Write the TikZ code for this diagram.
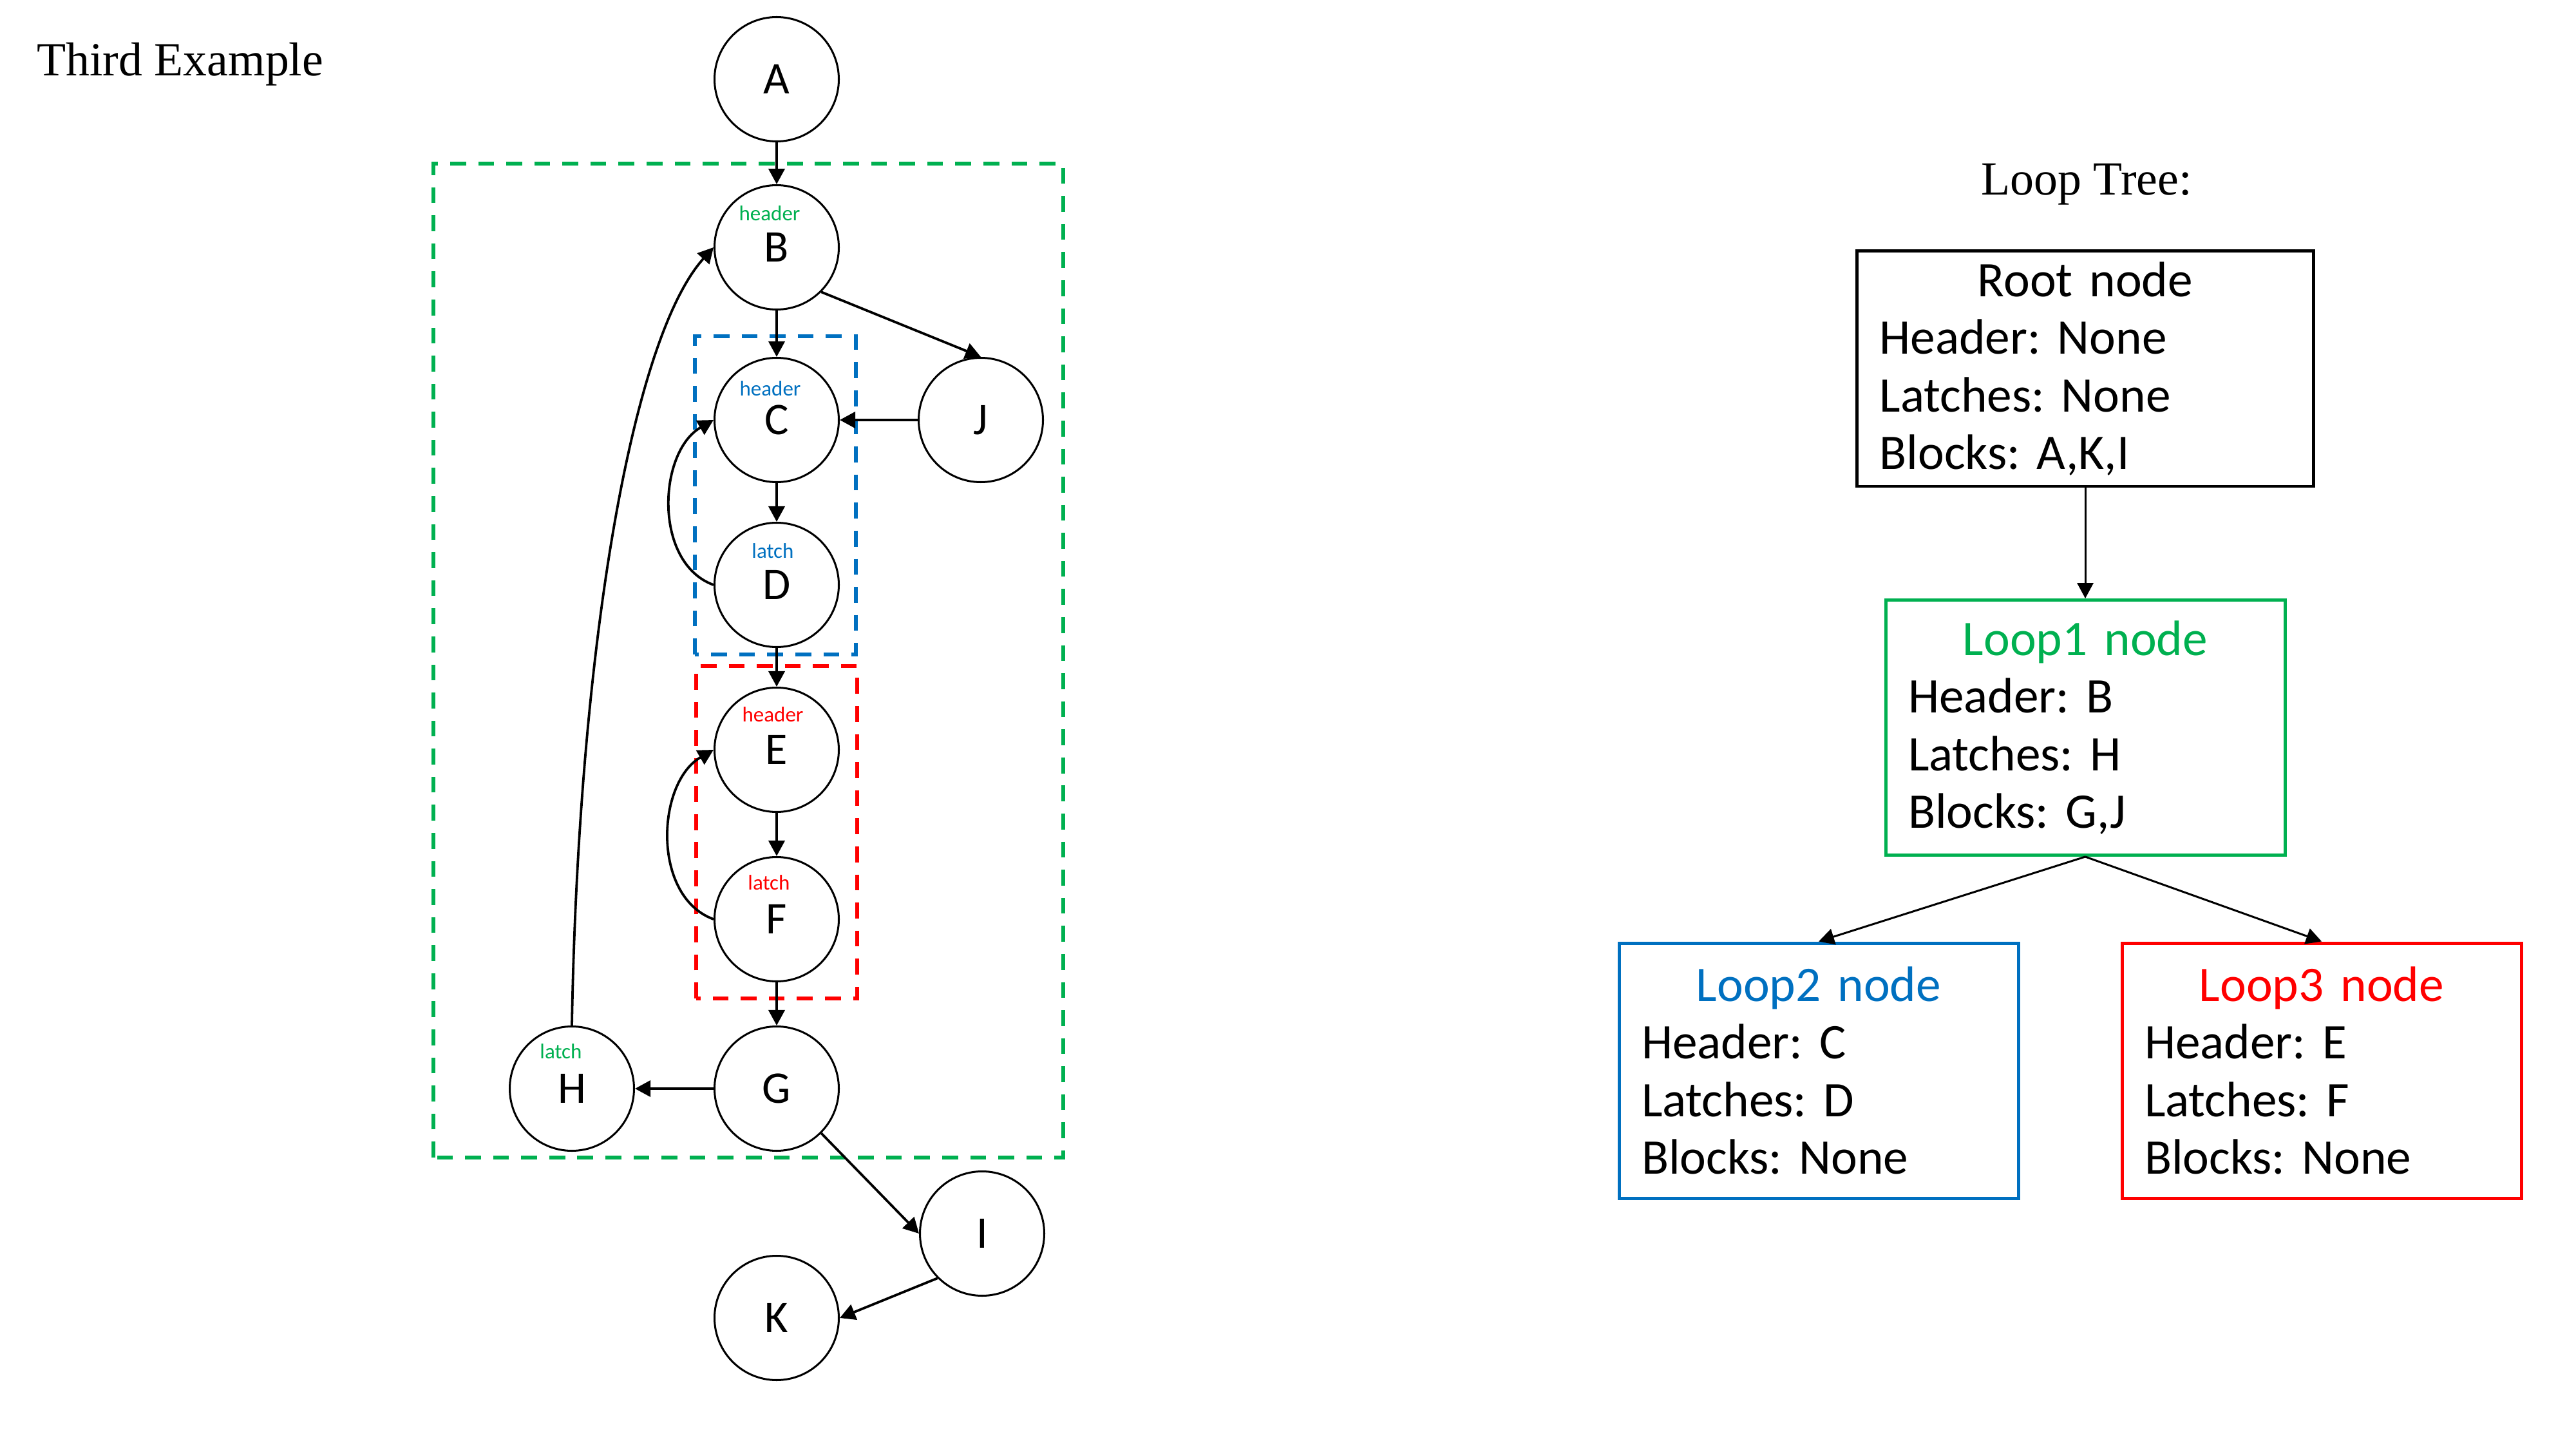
\documentclass[tikz,border=0pt]{standalone}
\usepackage{fontspec}
\setmainfont{Liberation Serif}
\newfontfamily\calfont{Carlito}
\usetikzlibrary{arrows.meta}
\definecolor{loopgreen}{RGB}{0,176,80}
\definecolor{loopblue}{RGB}{0,112,192}
\definecolor{loopred}{RGB}{255,0,0}
\frenchspacing
\begin{document}
\begin{tikzpicture}[
  >={Triangle[length=0.12cm,width=0.125cm]},
  block/.style={circle, draw, line width=0.43pt, minimum size=0.965cm, inner sep=0pt, font=\calfont\fontsize{10}{12}\selectfont},
  tag/.style={anchor=base, inner sep=0pt, font=\calfont\fontsize{4.7}{5.6}\selectfont},
  edge/.style={->, line width=0.54pt},
  region/.style={line width=0.8pt, dash pattern=on 3.5pt off 2.7pt},
  treebox/.style={draw, line width=0.71pt, inner xsep=0.175cm, inner ysep=0pt, text width=2.75cm, minimum width=3.1cm, minimum height=1.98cm, align=left, font=\calfont\fontsize{11}{12.7}\selectfont},
  treeedge/.style={->, line width=0.43pt}
]
\useasboundingbox (0,0) rectangle (20,11.25);

\node[anchor=base west, inner sep=0pt, font=\fontsize{10.5}{12.6}\selectfont] (title) at (0.28,10.66) {Third Example};
\node[anchor=base, inner sep=0pt, font=\fontsize{10.5}{12.6}\selectfont] (treetitle) at (16.2,9.735) {Loop Tree:};

\draw[region, draw=loopgreen] (3.365,2.265) rectangle (8.255,9.98);
\draw[region, draw=loopblue] (5.395,6.17) rectangle (6.645,8.64);
\draw[region, draw=loopred] (5.405,3.5) rectangle (6.655,6.08);

\node[block] (A) at (6.03,10.635) {A};
\node[block] (B) at (6.03,9.33) {B};
\node[block] (C) at (6.03,7.99) {C};
\node[block] (D) at (6.03,6.71) {D};
\node[block] (E) at (6.03,5.43) {E};
\node[block] (F) at (6.03,4.115) {F};
\node[block] (G) at (6.03,2.8) {G};
\node[block] (H) at (4.44,2.8) {H};
\node[block] (J) at (7.615,7.99) {J};
\node[block] (I) at (7.625,1.675) {I};
\node[block] (K) at (6.03,1.02) {K};

\node[tag, text=loopgreen, xshift=-0.055cm, yshift=0.205cm] (Btag) at (B) {header};
\node[tag, text=loopblue, xshift=-0.05cm, yshift=0.185cm] (Ctag) at (C) {header};
\node[tag, text=loopblue, xshift=-0.03cm, yshift=0.205cm] (Dtag) at (D) {latch};
\node[tag, text=loopred, xshift=-0.03cm, yshift=0.22cm] (Etag) at (E) {header};
\node[tag, text=loopred, xshift=-0.06cm, yshift=0.23cm] (Ftag) at (F) {latch};
\node[tag, text=loopgreen, xshift=-0.085cm, yshift=0.235cm] (Htag) at (H) {latch};

\draw[edge] (A) to (B);
\draw[edge] (B) to (C);
\draw[edge] (B.south east) to (J.north);
\draw[edge] (J) to (C);
\draw[edge] (C) to (D);
\draw[edge] (D.west) to[out=160, in=210] (C.west);
\draw[edge] (D) to (E);
\draw[edge] (E) to (F);
\draw[edge] (F.west) to[out=160, in=210] (E.west);
\draw[edge] (F) to (G);
\draw[edge] (G) to (H);
\draw[edge] (H.north) to[out=89, in=228, out looseness=1.2, in looseness=0.4] (B.west);
\draw[edge] (G.south east) to (I.west);
\draw[edge] (I.south west) to (K.east);

\node[treebox, text width=3.195cm, minimum width=3.545cm, minimum height=1.825cm] (root) at (16.19,8.3875) {\makebox[\linewidth]{Root node}\\ Header: None\\ Latches: None\\ Blocks: A,K,I};
\node[treebox, draw=loopgreen] (loop1) at (16.19,5.6025) {\makebox[\linewidth]{\textcolor{loopgreen}{Loop1 node}}\\ Header: B\\ Latches: H\\ Blocks: G,J};
\node[treebox, draw=loopblue] (loop2) at (14.12,2.94) {\makebox[\linewidth]{\textcolor{loopblue}{Loop2 node}}\\ Header: C\\ Latches: D\\ Blocks: None};
\node[treebox, draw=loopred] (loop3) at (18.025,2.94) {\makebox[\linewidth]{\textcolor{loopred}{Loop3 node}}\\ Header: E\\ Latches: F\\ Blocks: None};

\draw[treeedge] (root) to (loop1);
\draw[treeedge] (loop1.south) to (loop2.north);
\draw[treeedge] (loop1.south) to (loop3.north);

\end{tikzpicture}
\end{document}
